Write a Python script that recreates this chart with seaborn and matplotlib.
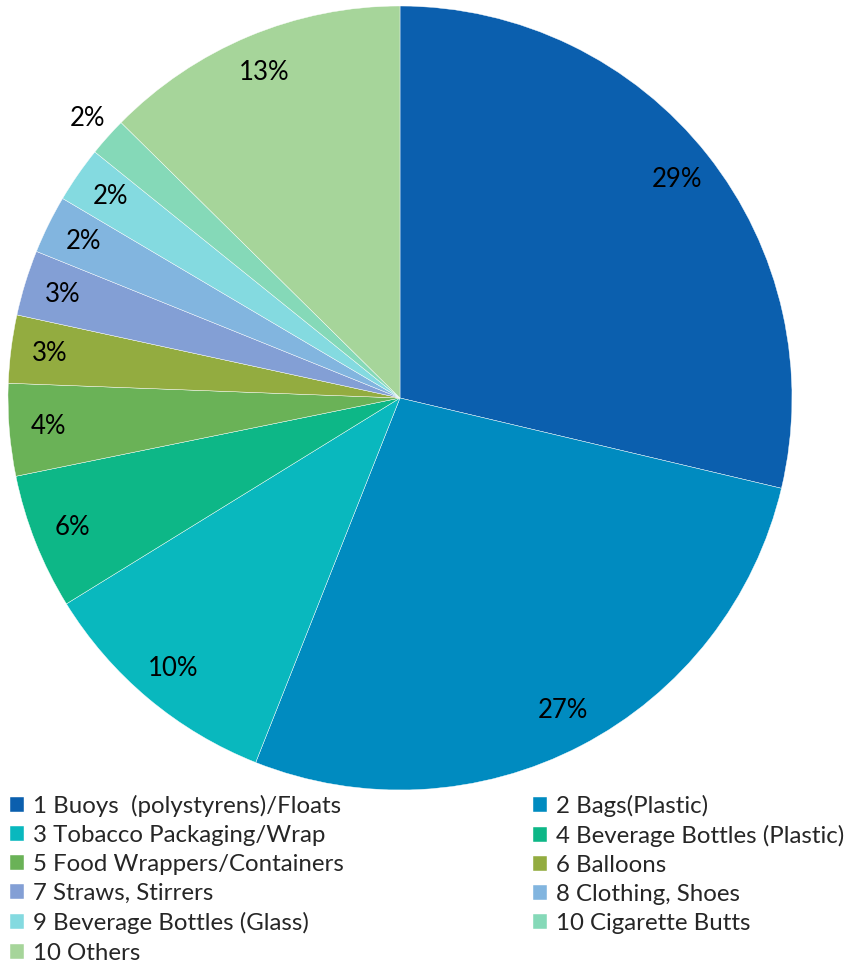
import numpy as np
import matplotlib
matplotlib.use("Agg")
import matplotlib.pyplot as plt
import seaborn as sns

sns.set_theme(style="white")
plt.rcParams['font.family'] = ['Lato', 'DejaVu Sans']

# Marine litter share by item (percent)
categories = [
    "1 Buoys  (polystyrens)/Floats",
    "2 Bags(Plastic)",
    "3 Tobacco Packaging/Wrap",
    "4 Beverage Bottles (Plastic)",
    "5 Food Wrappers/Containers",
    "6 Balloons",
    "7 Straws, Stirrers",
    "8 Clothing, Shoes",
    "9 Beverage Bottles (Glass)",
    "10 Cigarette Butts",
    "10 Others",
]
shares = [28.7, 27.3, 10.2, 5.6, 3.8, 2.8, 2.7, 2.4, 2.3, 1.6, 12.6]
colors = ["#0B5FAE", "#008BC0", "#09B8BE", "#0DB787", "#6AB257", "#93AC40",
          "#839FD5", "#82B5DF", "#84DAE0", "#85D9B8", "#A6D59A"]

fig = plt.figure(figsize=(8.49, 9.66), dpi=100)
ax = fig.add_axes([8 / 849, 176 / 966, 784 / 849, 784 / 966])

wedges, texts, autotexts = ax.pie(
    shares, colors=colors, startangle=90, counterclock=False,
    autopct="%.0f%%", pctdistance=0.9,
    wedgeprops=dict(edgecolor="white", linewidth=0.3),
    textprops=dict(fontsize=18.5, color="black"),
)
ax.set_xlim(-1, 1)
ax.set_ylim(-1, 1)
ax.set_aspect("equal")

# smallest slice label sits outside the pie
w = wedges[9]
mid = np.deg2rad((w.theta1 + w.theta2) / 2)
autotexts[9].set_position((1.07 * np.cos(mid), 1.07 * np.sin(mid)))

order = [0, 2, 4, 6, 8, 10, 1, 3, 5, 7, 9]
leg = fig.legend([wedges[i] for i in order], [categories[i] for i in order],
                 ncol=2, loc="upper left", bbox_to_anchor=(0.012, 0.1775),
                 frameon=False, fontsize=17.3, handlelength=0.58, handleheight=0.58,
                 handletextpad=0.35, labelspacing=0.34, columnspacing=7.9,
                 borderaxespad=0, borderpad=0)

fig.savefig("out.png", dpi=100, facecolor="white")
